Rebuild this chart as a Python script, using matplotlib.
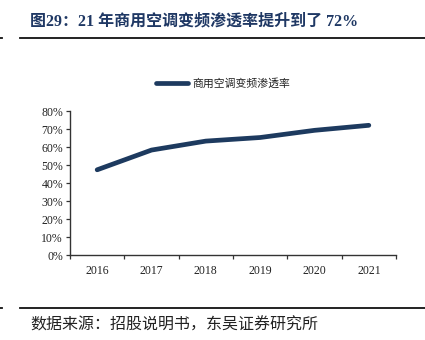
import matplotlib
matplotlib.use("Agg")
import matplotlib.pyplot as plt
from matplotlib.ticker import FixedLocator, PercentFormatter
import numpy as np

years = ["2016", "2017", "2018", "2019", "2020", "2021"]
rate = [47.5, 58.5, 63.5, 65.5, 69.5, 72.3]
yticks = [0, 10, 20, 30, 40, 50, 60, 70, 80]
title = "图29：21 年商用空调变频渗透率提升到了 72%"
series_name = "商用空调变频渗透率"
source = "数据来源：招股说明书，东吴证券研究所"

cjk = ["Noto Sans CJK SC", "DejaVu Sans"]
serif_cjk = ["Liberation Serif", "Noto Sans CJK SC", "DejaVu Sans"]
serif = ["Liberation Serif", "DejaVu Serif"]
navy = "#1d3a5f"

W, H = 425, 340
fig = plt.figure(figsize=(W / 100, H / 100), dpi=100)
fig.patch.set_facecolor("white")

def fx(px):
    return px / W

def fy(py):
    return 1 - py / H

ax = fig.add_axes([fx(70), fy(255), fx(396) - fx(70), fy(111.5) - fy(255)])
x = np.arange(len(years))
line, = ax.plot(x, rate, color=navy, lw=3.4, solid_capstyle="round", solid_joinstyle="round")
ax.set_xlim(-0.5, len(years) - 0.5)
ax.set_ylim(0, 80)
ax.set_yticks(yticks)
ax.yaxis.set_major_formatter(PercentFormatter(decimals=0))
ax.set_xticks(x)
ax.set_xticklabels(years)
ax.xaxis.set_minor_locator(FixedLocator(np.arange(-0.5, len(years), 1.0)))
ax.tick_params(axis="x", which="major", length=0, pad=7)
ax.tick_params(axis="x", which="minor", length=3, width=0.9, color="#333333", direction="out")
ax.tick_params(axis="y", length=3, width=0.9, color="#333333", direction="out", pad=2)
for lab in ax.get_xticklabels() + ax.get_yticklabels():
    lab.set_fontfamily(serif)
    lab.set_fontsize(8.5)
    lab.set_color("#222222")
for s in ["top", "right"]:
    ax.spines[s].set_visible(False)
for s in ["left", "bottom"]:
    ax.spines[s].set_color("#333333")
    ax.spines[s].set_linewidth(1.0)

leg = ax.legend([line], [series_name], loc="center", bbox_to_anchor=(fx(223), fy(83)),
                bbox_transform=fig.transFigure, frameon=False, handlelength=3.0,
                handletextpad=0.4, borderpad=0, prop={"family": cjk, "size": 7.8})
leg.get_lines()[0].set_linewidth(3.4)
leg.get_texts()[0].set_color("#222222")

fig.text(fx(30), fy(21), title, family=serif_cjk, fontsize=11.5, fontweight="bold",
         color="#1f3864", va="center", ha="left")
for yy in (38, 307.5):
    fig.add_artist(plt.Line2D([fx(20), fx(425)], [fy(yy), fy(yy)], color="#111111", lw=1.3,
                              transform=fig.transFigure))
    fig.add_artist(plt.Line2D([fx(0), fx(2)], [fy(yy), fy(yy)], color="#111111", lw=1.3,
                              transform=fig.transFigure))
fig.text(fx(30), fy(325), source, family=cjk, fontsize=11.5, fontweight="light",
         color="#222222", va="center", ha="left")

fig.savefig("out.png", dpi=100, facecolor="white")
